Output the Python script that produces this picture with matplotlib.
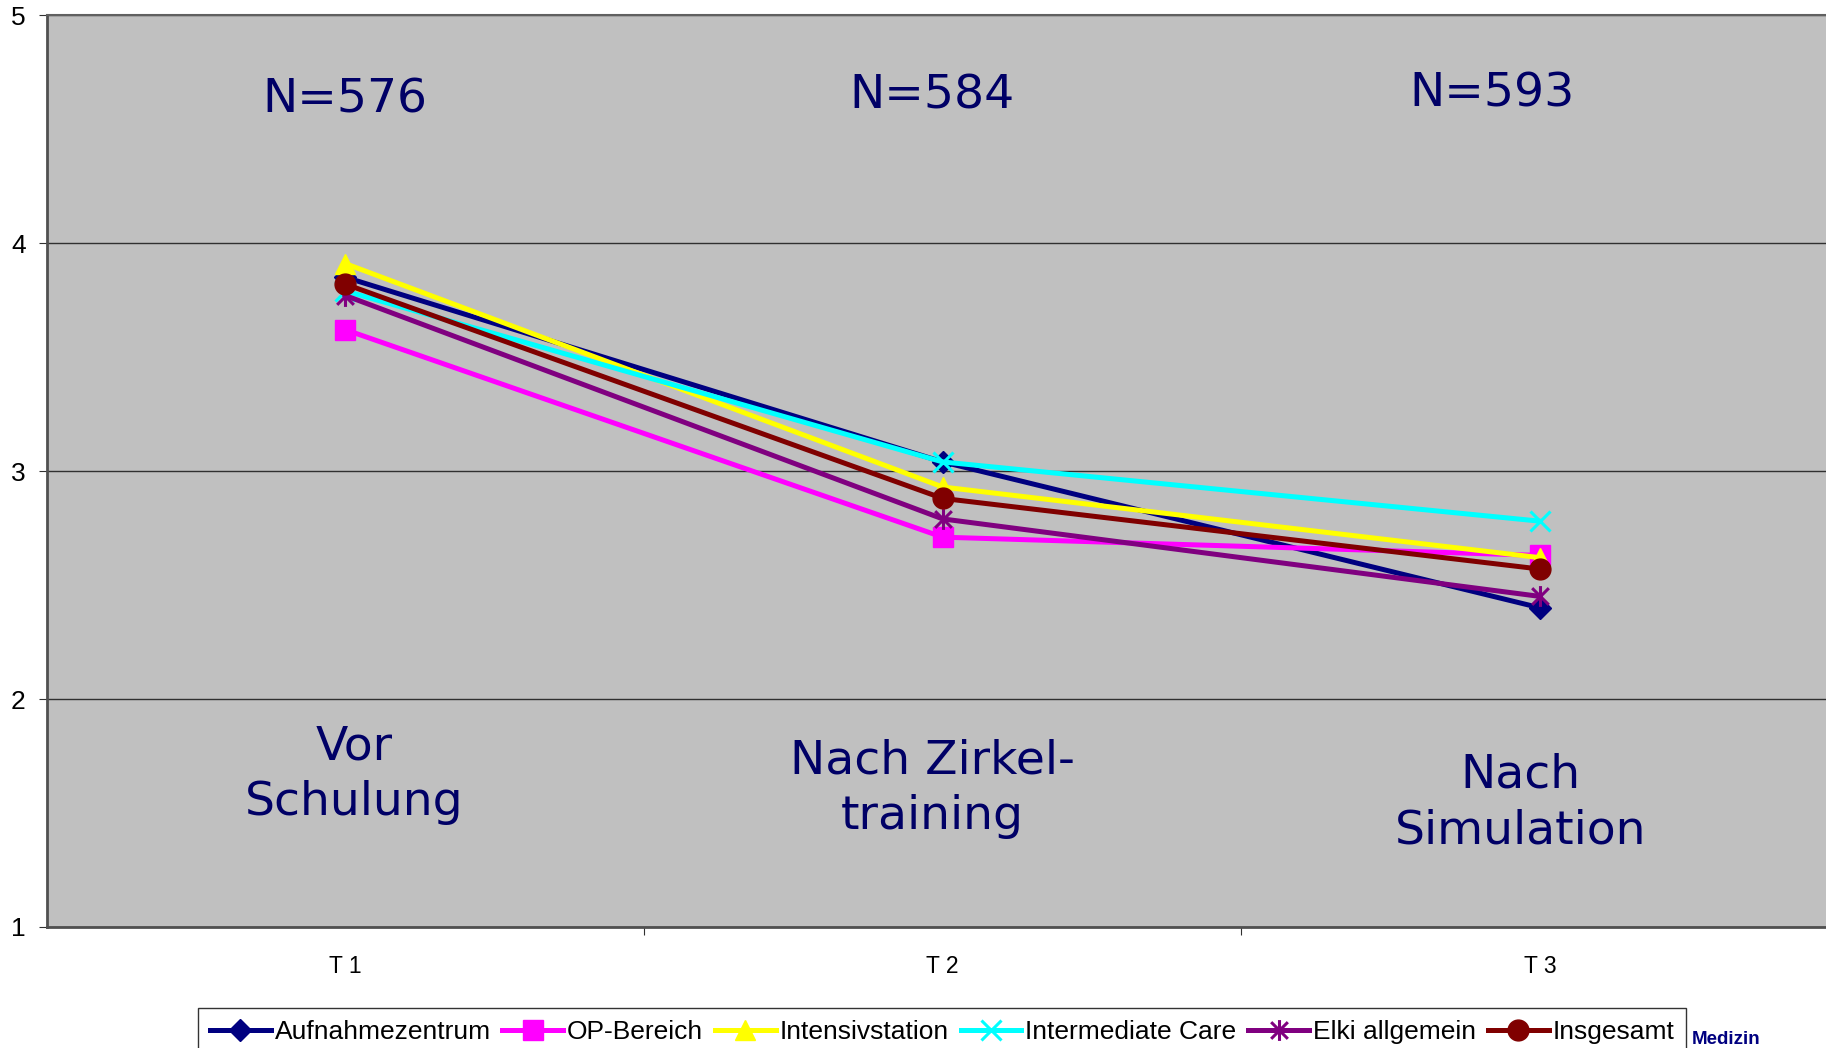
import matplotlib
matplotlib.use("Agg")
import matplotlib.pyplot as plt
from matplotlib.path import Path

# ---- data ------------------------------------------------------------------
categories = ["T 1", "T 2", "T 3"]
series_names = ["Aufnahmezentrum", "OP-Bereich", "Intensivstation",
                "Intermediate Care", "Elki allgemein", "Insgesamt"]
aufnahmezentrum = [3.85, 3.04, 2.40]
op_bereich = [3.62, 2.71, 2.63]
intensivstation = [3.91, 2.93, 2.62]
intermediate_care = [3.79, 3.04, 2.78]
elki_allgemein = [3.77, 2.79, 2.45]
insgesamt = [3.82, 2.88, 2.57]
n_labels = ["N=576", "N=584", "N=593"]
phase_labels = ["Vor\nSchulung", "Nach Zirkel-\ntraining", "Nach\nSimulation"]

# asterisk marker like the spreadsheet "star": vertical bar plus an x
star = Path([(0, -1), (0, 1), (-0.8, -0.8), (0.8, 0.8), (-0.8, 0.8), (0.8, -0.8)],
            [Path.MOVETO, Path.LINETO] * 3)

styles = [
    dict(color="#000080", marker="D", ms=11),
    dict(color="#FF00FF", marker="s", ms=14),
    dict(color="#FFFF00", marker="^", ms=15),
    dict(color="#00FFFF", marker="x", ms=15, mew=2.2),
    dict(color="#800080", marker=star, ms=15, mew=2.2, mfc="none"),
    dict(color="#800000", marker="o", ms=15),
]
values = [aufnahmezentrum, op_bereich, intensivstation,
          intermediate_care, elki_allgemein, insgesamt]

TEXT_BLUE = "#000066"

fig = plt.figure(figsize=(18.26, 10.48), dpi=100)
ax = fig.add_axes([0.02552, 0.11546, 0.9815, 0.87013])
ax.set_facecolor("#C0C0C0")

x = list(range(len(categories)))
for name, vals, st in zip(series_names, values, styles):
    st = dict(st)
    color = st.pop("color")
    ax.plot(x, vals, lw=3.6, color=color, mec=color,
            mfc=st.pop("mfc", color), label=name, clip_on=False, **st)

ax.set_xlim(-0.5, 2.5)
ax.set_ylim(1, 5)
ax.set_yticks([1, 2, 3, 4, 5])
ax.grid(axis="y", color="#303030", lw=1)
ax.set_axisbelow(True)

# category labels centred, tick marks between categories
ax.set_xticks([0.5, 1.5])
ax.set_xticklabels([])
ax.set_xticks(x, minor=True)
ax.set_xticklabels(categories, minor=True, fontsize=16.5, family="Liberation Sans")
ax.tick_params(axis="x", which="major", direction="out", length=6, color="#303030")
ax.tick_params(axis="x", which="minor", length=0, pad=20)
ax.tick_params(axis="y", direction="out", length=6, pad=9, labelsize=19,
               color="#303030")
for lab in ax.get_yticklabels():
    lab.set_family("Liberation Sans")

for side in ["left", "bottom"]:
    ax.spines[side].set_color("#505050")
    ax.spines[side].set_linewidth(2)
ax.spines["top"].set_color("#606060")
ax.spines["top"].set_linewidth(1.5)
ax.spines["right"].set_visible(False)

# annotations inside the plot
n_pos = [(0.0, 4.628), (0.982, 4.647), (1.92, 4.652)]
for (px, py), t in zip(n_pos, n_labels):
    ax.text(px, py, t, ha="center", va="center", fontsize=34,
            color=TEXT_BLUE, family="DejaVu Sans")
phase_pos = [(0.015, 1.67), (0.982, 1.605), (1.967, 1.543)]
for (px, py), t in zip(phase_pos, phase_labels):
    ax.text(px, py, t, ha="center", va="center", fontsize=34,
            color=TEXT_BLUE, family="DejaVu Sans", linespacing=1.3,
            multialignment="center")

leg = fig.legend(loc="upper left", bbox_to_anchor=(0.1084, 0.0377), ncol=6,
                 frameon=True, fancybox=False, borderaxespad=0,
                 handlelength=2.3, handletextpad=0.15, columnspacing=0.45,
                 borderpad=0.45,
                 prop={"family": "Liberation Sans", "size": 19})
leg.get_frame().set_edgecolor("black")
leg.get_frame().set_linewidth(1)

fig.text(1725.8 / 1826, 1 - 1040 / 1048, "Medizin", ha="center", va="center",
         fontsize=13.5, fontweight="bold", color="#000080",
         family="Liberation Sans")

fig.savefig("out.png", dpi=100)
